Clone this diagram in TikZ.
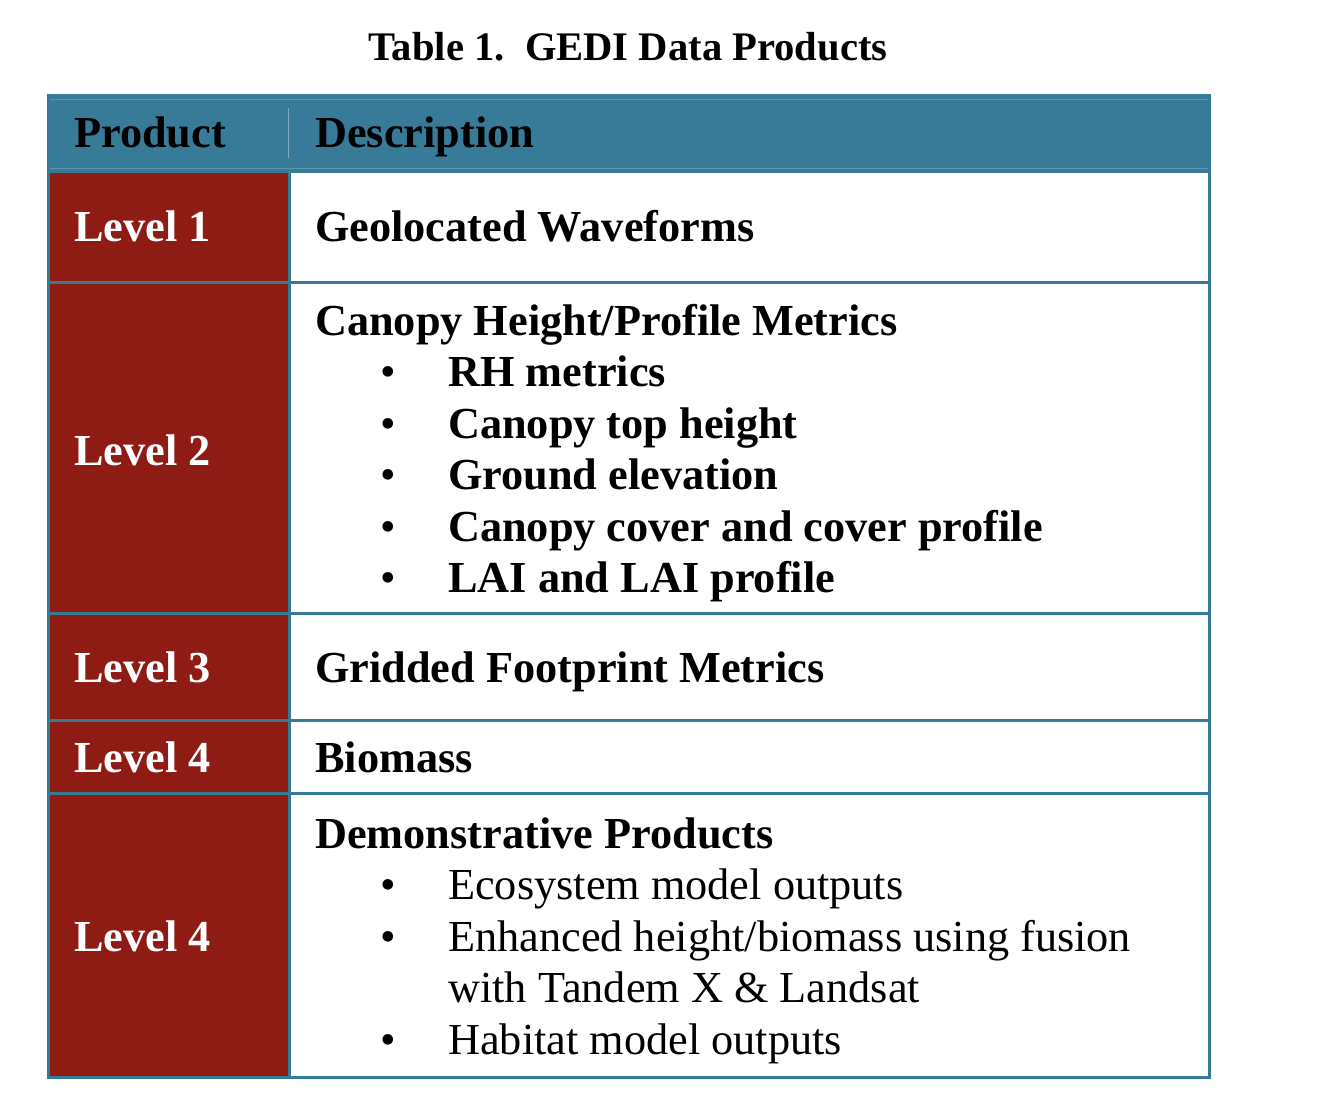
\documentclass[tikz,border=0pt]{standalone}
\usepackage{fontspec}
\setmainfont{Liberation Serif}
\definecolor{gteal}{RGB}{56,123,152}
\definecolor{gline}{RGB}{54,122,150}
\definecolor{gred}{RGB}{142,28,20}
\definecolor{glight}{RGB}{150,190,208}
\begin{document}
\begin{tikzpicture}[x=1pt,y=-1pt,
  txt/.style={anchor=base west,inner sep=0pt,font=\fontsize{44.3}{51.5}\selectfont\bfseries},
  lvl/.style={txt,text=white},
  itm/.style={anchor=base west,inner sep=0pt,font=\fontsize{44.3}{51.5}\selectfont},
  bul/.style={anchor=base,inner sep=0pt,font=\fontsize{44.3}{51.5}\selectfont},
  grid/.style={draw=gline,line width=3pt},
  ttl/.style={anchor=base,inner sep=0pt,font=\fontsize{40.6}{46}\selectfont\bfseries}]
\useasboundingbox (0,0) rectangle (1334,1118);
\fill[white] (0,0) rectangle (1334,1118);
% fills
\fill[gteal] (48,96) rectangle (1209,171);
\fill[gred] (48,171) rectangle (289,1077);
% faint header artefacts
\draw[glight,line width=0.8pt,opacity=0.7] (288,108) -- (288,158);
\draw[glight,line width=0.6pt,opacity=0.4] (49,99) -- (1208,99);
\draw[glight,line width=0.6pt,opacity=0.4] (49,168) -- (1208,168);
% grid lines
\coordinate (tl) at (48,96);
\coordinate (br) at (1209,1077);
\draw[grid] (tl) rectangle (br);
\draw[grid] (48,171.5) -- (1209,171.5);
\draw[grid] (48,283) -- (1209,283);
\draw[grid] (48,613) -- (1209,613);
\draw[grid] (48,720) -- (1209,720);
\draw[grid] (48,793) -- (1209,793);
\draw[grid] (289.5,171) -- (289.5,1077);
% title
\node[ttl] (title) at (628,61) {Table 1.\ \ GEDI Data Products};
% header
\node[txt] (hprod) at (74,148) {Product};
\node[txt] (hdesc) at (315,148) {Description};
% level 1
\node[lvl] (l1) at (74,242) {Level 1};
\node[txt] (d1) at (315,242) {Geolocated Waveforms};
% level 2
\node[lvl] (l2) at (74,465) {Level 2};
\node[txt] (d2) at (315,335) {Canopy Height/Profile Metrics};
\node[bul] (b2a) at (388.5,386.5) {•};
\node[txt] (i2a) at (448,386.5) {RH metrics};
\node[bul] (b2b) at (388.5,438) {•};
\node[txt] (i2b) at (448,438) {Canopy top height};
\node[bul] (b2c) at (388.5,489.5) {•};
\node[txt] (i2c) at (448,489.5) {Ground elevation};
\node[bul] (b2d) at (388.5,541) {•};
\node[txt] (i2d) at (448,541) {Canopy cover and cover profile};
\node[bul] (b2e) at (388.5,592.5) {•};
\node[txt] (i2e) at (448,592.5) {LAI and LAI profile};
% level 3
\node[lvl] (l3) at (74,682) {Level 3};
\node[txt] (d3) at (315,682) {Gridded Footprint Metrics};
% level 4
\node[lvl] (l4) at (74,772) {Level 4};
\node[txt] (d4) at (315,772) {Biomass};
% level 4 demonstrative
\node[lvl] (l5) at (74,951) {Level 4};
\node[txt] (d5) at (315,848) {Demonstrative Products};
\node[bul] (b5a) at (388.5,899.5) {•};
\node[itm] (i5a) at (448,899.5) {Ecosystem model outputs};
\node[bul] (b5b) at (388.5,951) {•};
\node[itm] (i5b) at (448,951) {Enhanced height/biomass using fusion};
\node[itm] (i5c) at (448,1002.5) {with Tandem X \& Landsat};
\node[bul] (b5c) at (388.5,1054) {•};
\node[itm] (i5d) at (448,1054) {Habitat model outputs};
\end{tikzpicture}
\end{document}
